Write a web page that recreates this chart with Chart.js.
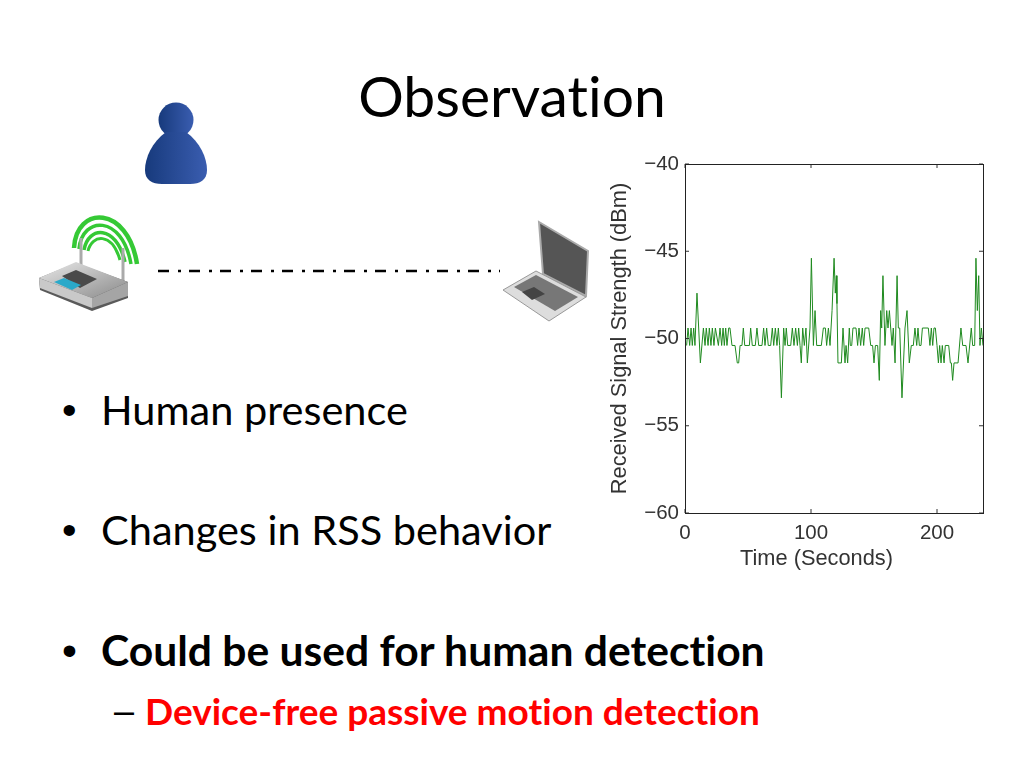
<!DOCTYPE html>
<html>
<head>
<meta charset="utf-8">
<title>Observation</title>
<script src="https://cdn.jsdelivr.net/npm/chart.js@4"></script>
<style>
    html, body { margin: 0; padding: 0; background: #fff; }
    #slide { position: relative; width: 1024px; height: 768px; overflow: hidden; font-family: Lato, "Open Sans", sans-serif; color: #000; font-variant-ligatures: none; }
    #slide div { position: absolute; white-space: nowrap; line-height: 1; }
    #slideTitle { left: 0; width: 1024px; top: 67px; text-align: center; font-size: 57px; }
    .bullet { left: 101px; font-size: 41.5px; }
    .bullet::before { content: "\2022"; position: absolute; left: -39px; font-family: "Liberation Sans", sans-serif; font-weight: normal; }
    #sub { left: 145px; top: 692px; font-size: 37px; font-weight: bold; color: #f00; }
    #subDash { left: 114px; top: 693px; font-size: 36px; font-family: "Liberation Sans", sans-serif; }
    #chartBox { left: 600px; top: 130px; width: 424px; height: 460px; }
    #xLabel { left: 740px; top: 547px; font: 21.8px "Liberation Sans", Arial, sans-serif; color: #333; }
    svg { position: absolute; left: 0; top: 0; }
</style>
</head>
<body>
<div id="slide">
    <svg width="1024" height="768">
        <defs>
            <linearGradient id="personFill" x1="0" x2="1" y1="0" y2="0">
                <stop offset="0" stop-color="#173a7c"/>
                <stop offset="1" stop-color="#3a5db0"/>
            </linearGradient>
            <linearGradient id="routerBody" x1="0" x2="1" y1="0" y2="1">
                <stop offset="0" stop-color="#e8e8e8"/>
                <stop offset="1" stop-color="#8a8a8a"/>
            </linearGradient>
        </defs>
        <!-- person -->
        <circle cx="176" cy="120" r="17.5" fill="url(#personFill)"/>
        <path d="M166 132 C152 142 145 158 145 170 C145 180 152 184 162 184 L190 184 C200 184 207 180 207 170 C207 158 200 142 186 132 Z" fill="url(#personFill)"/>
        <!-- router -->
        <g fill="none" stroke="#35c935">
            <path d="M74 248 C76 205 128 205 137 264" stroke-width="4.5"/>
            <path d="M79 249 C82 216 122 214 131 264" stroke-width="3.5"/>
            <path d="M84 250 C88 226 116 224 125 262" stroke-width="3.5"/>
            <path d="M88 251 C92 234 112 232 120 260" stroke-width="3"/>
        </g>
        <line x1="81" y1="238" x2="81" y2="268" stroke="#aaa" stroke-width="3"/>
        <line x1="123" y1="248" x2="123" y2="285" stroke="#aaa" stroke-width="3"/>
        <path d="M39 278 L76 263 L128 282 L128 298 L92 311 L40 290 Z" fill="#5a5a5a"/>
        <path d="M39 278 L76 262 L128 282 L92 298 Z" fill="url(#routerBody)"/>
        <path d="M92 298 L128 282 L128 296 L92 308 Z" fill="#a5a5a5"/>
        <path d="M39 278 L92 298 L92 308 L40 288 Z" fill="#c9c9c9"/>
        <path d="M62 276 L76 270 L97 279 L80 288 Z" fill="#4a4a4a"/>
        <path d="M54 282 L64 278 L81 285 L72 290 Z" fill="#2aa9c9"/>
        <!-- dash-dot link -->
        <line x1="158" y1="271" x2="500" y2="271" stroke="#000" stroke-width="2.5" stroke-dasharray="11 9 3 8"/>
        <!-- laptop -->
        <path d="M539 222 L588 251 L586 296 L543 274 Z" fill="#555" stroke="#aaa" stroke-width="2"/>
        <path d="M536 271 L586 297 L549 321 L503 290 Z" fill="#ddd" stroke="#999"/>
        <path d="M536 275 L578 297 L555 311 L514 287 Z" fill="#777"/>
        <path d="M522 292 L534 287 L545 294 L532 300 Z" fill="#444"/>
    </svg>
    <div id="slideTitle">Observation</div>
    <div class="bullet" style="top: 389px">Human presence</div>
    <div class="bullet" style="top: 509px">Changes in RSS behavior</div>
    <div class="bullet" style="top: 629px; font-size: 42.6px; font-weight: bold">Could be used for human detection</div>
    <div id="subDash">&#8211;</div>
    <div id="sub">Device-free passive motion detection</div>
    <div id="chartBox"><canvas id="rssChart" width="424" height="460"></canvas></div>
    <div id="xLabel">Time (Seconds)</div>
</div>
<script>
const yTicks = [-60, -55, -50, -45, -40];
const xTicks = [0, 100, 200];

// one entry per vertex of the trace
const timeSeconds = [
    1.3, 2.4, 3.7, 4.8, 5.8, 6.9, 7.9, 9.5, 12.2, 14.6,
    15.9, 16.9, 18.3, 19.3, 20.6, 21.7, 23.0, 24.1, 26.5, 27.8,
    29.1, 30.2, 31.2, 32.3, 33.3, 34.7, 35.7, 37.3, 39.7, 41.5,
    42.6, 43.7, 45.2, 46.3, 47.4, 51.1, 52.1, 53.4, 55.8, 57.1,
    58.5, 61.1, 62.4, 63.5, 64.8, 66.1, 68.0, 69.3, 70.4, 71.7,
    73.0, 74.1, 75.1, 76.5, 78.3, 79.4, 80.4, 81.5, 83.9, 85.2,
    86.5, 87.8, 89.2, 90.2, 91.3, 92.3, 93.4, 94.7, 96.0, 97.1,
    99.2, 100.3, 101.9, 103.2, 104.5, 108.2, 109.8, 111.4, 112.4, 113.8,
    115.1, 116.7, 118.3, 119.3, 120.1, 120.6, 121.4, 124.1, 125.4, 127.0,
    127.8, 129.1, 130.4, 131.2, 132.3, 133.3, 135.7, 137.0, 138.1, 139.4,
    140.7, 141.8, 142.9, 145.8, 147.4, 148.9, 150.0, 151.1, 152.9, 154.2,
    155.3, 156.1, 157.1, 158.7, 160.1, 161.1, 162.2, 164.3, 165.3, 166.7,
    168.3, 169.3, 170.4, 172.2, 174.6, 176.2, 178.0, 179.6, 181.2, 182.5,
    183.9, 184.9, 186.0, 187.3, 188.4, 193.1, 194.4, 195.5, 196.6, 197.6,
    198.7, 200.0, 201.1, 202.1, 203.2, 204.2, 205.6, 206.6, 209.3, 210.6,
    211.4, 212.4, 213.5, 216.7, 219.0, 220.4, 223.0, 224.6, 227.2, 228.3,
    229.9, 230.9, 232.0, 233.1, 234.1, 235.2, 236.5
];
const rssDbm = [
    -50.4, -49.4, -50.4, -49.4, -50.4, -49.4, -50.4, -47.4, -51.4, -49.4,
    -50.4, -49.4, -50.4, -49.4, -50.4, -49.4, -50.4, -49.4, -50.4, -49.4,
    -50.4, -49.4, -50.4, -49.4, -50.4, -49.4, -49.4, -50.4, -50.4, -51.4,
    -51.4, -50.4, -50.4, -49.4, -50.4, -50.4, -49.4, -50.4, -50.4, -49.4,
    -50.4, -50.4, -49.4, -50.4, -49.4, -50.4, -50.4, -49.4, -50.4, -49.4,
    -50.4, -49.4, -50.4, -53.4, -49.4, -50.4, -49.4, -50.4, -50.4, -49.4,
    -50.4, -49.4, -50.4, -49.4, -50.4, -51.4, -49.4, -50.4, -49.4, -51.4,
    -49.4, -45.4, -50.4, -48.4, -50.4, -50.4, -49.4, -49.4, -50.4, -49.4,
    -50.4, -48.4, -45.4, -47.4, -46.4, -48.0, -51.4, -51.4, -49.4, -51.4,
    -50.4, -51.4, -49.4, -50.4, -50.4, -49.4, -49.4, -50.4, -49.4, -50.4,
    -49.4, -50.4, -49.4, -49.4, -50.4, -50.4, -51.4, -50.4, -50.4, -52.4,
    -48.4, -49.4, -46.4, -50.4, -48.4, -49.4, -48.4, -50.4, -49.4, -51.4,
    -46.4, -49.4, -49.4, -53.4, -49.4, -48.4, -51.4, -50.4, -50.4, -49.4,
    -50.4, -49.4, -50.4, -50.4, -49.4, -49.4, -50.4, -49.4, -50.4, -49.4,
    -49.4, -50.4, -51.4, -50.4, -51.4, -50.4, -51.4, -50.4, -50.4, -51.4,
    -51.4, -52.4, -51.4, -51.4, -49.4, -50.4, -50.4, -51.4, -49.4, -50.4,
    -50.4, -45.4, -48.4, -46.4, -50.4, -49.4, -50.4
];

// MATLAB style ticks: short marks pointing into the box on all four sides
const inwardTicks = {
    id: 'inwardTicks',
    afterDatasetsDraw(chart) {
        const { ctx, chartArea: a, scales } = chart;
        ctx.save();
        ctx.strokeStyle = '#333';
        ctx.lineWidth = 1;
        ctx.beginPath();
        xTicks.forEach(v => {
            const x = scales.x.getPixelForValue(v);
            ctx.moveTo(x, a.bottom); ctx.lineTo(x, a.bottom - 4);
            ctx.moveTo(x, a.top); ctx.lineTo(x, a.top + 4);
        });
        yTicks.forEach(v => {
            const y = scales.y.getPixelForValue(v);
            ctx.moveTo(a.left, y); ctx.lineTo(a.left + 4, y);
            ctx.moveTo(a.right, y); ctx.lineTo(a.right - 4, y);
        });
        ctx.stroke();
        ctx.restore();
    }
};

const tickFont = { family: '"Liberation Sans", Arial, sans-serif', size: 20.5 };
const titleFont = { family: '"Liberation Sans", Arial, sans-serif', size: 21.8 };

new Chart(document.getElementById('rssChart'), {
    type: 'line',
    data: {
        datasets: [{
            data: timeSeconds.map((t, i) => ({ x: t, y: rssDbm[i] })),
            borderColor: '#1f8a1f',
            borderWidth: 1,
            pointRadius: 0,
            tension: 0
        }]
    },
    options: {
        responsive: false,
        animation: false,
        layout: { padding: { top: 34, right: 41 } },
        plugins: { legend: { display: false }, tooltip: { enabled: false } },
        scales: {
            x: {
                type: 'linear',
                min: 0,
                max: 236.5,
                afterBuildTicks: scale => { scale.ticks = xTicks.map(v => ({ value: v })); },
                afterFit: scale => { scale.height = 77; },
                grid: { display: false, drawTicks: false },
                border: { color: '#222', width: 1 },
                ticks: { color: '#333', font: tickFont, maxRotation: 0, autoSkip: false, padding: 8 }
            },
            y: {
                min: -60,
                max: -40,
                afterBuildTicks: scale => { scale.ticks = yTicks.map(v => ({ value: v })); },
                afterFit: scale => { scale.width = 85; },
                grid: { display: false, drawTicks: false },
                border: { color: '#222', width: 1 },
                ticks: {
                    color: '#333',
                    font: tickFont,
                    padding: 6,
                    callback: v => '\u2212' + Math.abs(v)
                },
                title: { display: true, text: 'Received Signal Strength (dBm)', color: '#333', font: titleFont, padding: { top: 7, bottom: 0 } }
            }
        }
    },
    plugins: [inwardTicks, {
        // the top and right sides of the box
        id: 'boxFrame',
        afterDraw(chart) {
            const { ctx, chartArea: a } = chart;
            ctx.save();
            ctx.strokeStyle = '#222';
            ctx.strokeRect(a.left + 0.5, a.top + 0.5, a.right - a.left, a.bottom - a.top);
            ctx.restore();
        }
    }]
});
</script>
</body>
</html>
